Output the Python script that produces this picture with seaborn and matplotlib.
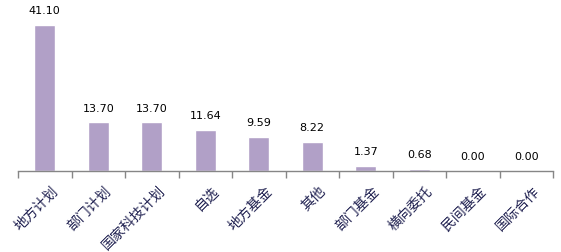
import matplotlib
matplotlib.use("Agg")
import matplotlib.pyplot as plt
import matplotlib.transforms as mtransforms
import seaborn as sns
import pandas as pd
from matplotlib.ticker import FixedLocator

categories = ["地方计划", "部门计划", "国家科技计划", "自选", "地方基金", "其他", "部门基金", "横向委托", "民间基金", "国际合作"]
values = [41.10, 13.70, 13.70, 11.64, 9.59, 8.22, 1.37, 0.68, 0.00, 0.00]

sns.set_theme(style="white")
plt.rcParams['font.family'] = ['Noto Sans CJK SC', 'DejaVu Sans']

df = pd.DataFrame({"cat": categories, "val": values})

fig = plt.figure(figsize=(5.61, 2.53), dpi=100)
ax = fig.add_axes([18/561, 1 - 172/253, (553 - 18)/561, 160/253])

sns.barplot(data=df, x="cat", y="val", color="#B1A0C7", width=0.4, saturation=1, ax=ax)
ax.set_xlim(-0.5, len(categories) - 0.5)
ax.set_ylim(0, 45)
ax.set_xlabel("")
ax.set_ylabel("")
ax.set_yticks([])
for s in ["top", "right", "left"]:
    ax.spines[s].set_visible(False)
ax.spines["bottom"].set_color("#868686")
ax.spines["bottom"].set_linewidth(1.0)

ax.xaxis.set_minor_locator(FixedLocator([i - 0.5 for i in range(len(categories) + 1)]))
ax.tick_params(axis="x", which="minor", length=5, width=1, color="#868686", direction="out", bottom=True)
ax.tick_params(axis="x", which="major", length=0, pad=8.5)
ax.set_xticks(range(len(categories)))
labels = ax.set_xticklabels(categories, rotation=45, ha="right", va="top", rotation_mode="anchor",
                            fontsize=10, color="#1F2050", family=['Noto Sans CJK SC', 'DejaVu Sans'])
offset = mtransforms.ScaledTranslation(6/100, 0, fig.dpi_scale_trans)
for lab in labels:
    lab.set_transform(lab.get_transform() + offset)

for i, v in enumerate(values):
    ax.annotate(f"{v:.2f}", (i, v), xytext=(0, 7), textcoords="offset points",
                ha="center", va="bottom", fontsize=8, color="#000000",
                family=["DejaVu Sans"], annotation_clip=False)

fig.savefig("out.png", dpi=100)
